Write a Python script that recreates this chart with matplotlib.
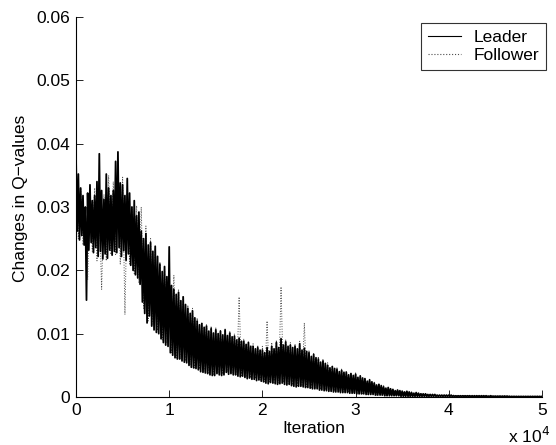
import matplotlib

matplotlib.use("Agg")
import matplotlib.pyplot as plt
import numpy as np

plt.rcParams["font.family"] = ["Liberation Sans", "DejaVu Sans"]

# ---------------------------------------------------------------- data
# values, in units of 1e-4
SCALE = 1e-4
LEADER_STEP = 125     # iterations between leader samples (8 per 1e3)
FOLLOWER_STEP = 250   # iterations between follower samples (4 per 1e3)

leader = [
    380, 262, 352, 248, 330, 255, 318, 240,   300, 153, 322, 232, 335, 244, 310, 228,
    318, 236, 340, 222, 384, 230, 326, 218,   312, 226, 352, 219, 330, 232, 318, 224,
    326, 230, 372, 228, 387, 236, 338, 222,   335, 231, 318, 216, 345, 226, 322, 208,
    300, 200, 310, 193, 286, 188, 292, 178,   262, 150, 250, 132, 258, 117, 240, 128,
    244, 112, 230, 106, 238, 102, 222, 100,   210, 92, 198, 86, 206, 82, 190, 80,
    237, 70, 176, 66, 170, 62, 162, 60,       165, 60, 152, 57, 158, 55, 146, 54,
    140, 50, 132, 47, 136, 46, 125, 45,       120, 43, 114, 40, 116, 39, 110, 38,
    112, 37, 104, 35, 108, 34, 101, 34,       106, 37, 100, 35, 104, 34, 98, 35,
    106, 39, 97, 36, 101, 37, 95, 35,         96, 35, 90, 33, 93, 32, 88, 33,
    88, 31, 83, 29, 86, 30, 80, 28,           80, 28, 76, 26, 78, 27, 74, 25,
    74, 24, 70, 22, 78, 21, 72, 23,           80, 22, 76, 21, 86, 20, 78, 21,
    92, 22, 82, 20, 87, 19, 80, 20,           82, 18, 78, 17, 80, 16, 76, 17,
    84, 17, 74, 16, 77, 15, 72, 15,           70, 14, 64, 13, 67, 13, 62, 13,
    60, 11, 55, 11, 57, 10, 53, 10,           50, 9, 46, 9, 48, 8, 45, 8,
    44, 8, 40, 7, 42, 7, 39, 7,               39, 7, 35, 6, 37, 6, 34, 6,
    36, 5, 31, 5, 33, 5, 30, 5,               29, 4, 25, 4, 27, 4, 24, 4,
    22, 3, 19, 3, 20, 3, 18, 3,               16, 2, 14, 2, 15, 2, 13, 2,
    12, 2, 10, 2, 11, 2, 10, 1,               9, 1, 8, 1, 9, 1, 8, 1,
    7, 1, 6, 1, 7, 1, 6, 1,                   5, 1, 5, 1, 5, 1, 4, 1,
    4, 1, 4, 1, 4, 1, 3, 1,                   3, 1, 3, 1, 3, 1, 3, 1,
    3, 1, 3, 1, 2, 1, 2, 1,                   2, 1, 2, 1, 2, 1, 2, 1,
    2, 1, 2, 0.5, 2, 0.5, 2, 0.5,             2, 0.5, 2, 0.5, 2, 0.5, 2, 0.5,
    2, 0.5, 1.5, 0.5, 2, 0.5, 1.5, 0.5,       1.5, 0.5, 1.5, 0.5, 1.5, 0.5, 1.5, 0.5,
    1.5, 0.4, 1.5, 0.4, 1, 0.4, 1, 0.4,       1, 0.3, 1, 0.3, 1, 0.3, 1, 0.3,
    1, 0.3, 1, 0.3, 1, 0.3, 1, 0.3,           1, 0.3, 1, 0.3, 1, 0.3, 1, 0.3,
    1,
]

follower = [
    360, 250, 330, 240,  300, 185, 320, 230,  330, 215, 300, 170,  320, 215, 350, 225,
    340, 225, 360, 210,  347, 130, 320, 210,  300, 195, 302, 180,  300, 140, 270, 120,
    250, 115, 235, 105,  212, 90, 205, 85,   180, 70, 192, 62,   170, 60, 160, 57,
    145, 50, 140, 46,    125, 44, 118, 40,   115, 38, 112, 36,   110, 37, 106, 36,
    108, 39, 104, 37,    100, 35, 158, 34,   92, 31, 88, 30,     84, 29, 82, 27,
    80, 24, 120, 24,     86, 23, 90, 22,     174, 23, 90, 21,    86, 19, 84, 18,
    88, 17, 117, 16,     74, 15, 70, 14,     64, 12, 60, 11,     54, 10, 50, 9,
    46, 8, 44, 8,        41, 7, 38, 6,       38, 6, 34, 5,       30, 4, 28, 4,
    24, 3, 21, 3,        18, 2, 15, 2,       13, 2, 11, 2,       10, 1, 9, 1,
    8, 1, 7, 1,          6, 1, 5, 1,         4, 1, 4, 1,         3, 1, 3, 1,
    3, 1, 3, 1,          2, 0.5, 2, 0.5,     2, 0.5, 2, 0.5,     2, 0.5, 2, 0.5,
    2, 0.5, 2, 0.5,      1.5, 0.5, 1.5, 0.5, 1.5, 0.4, 1.5, 0.4, 1, 0.3, 1, 0.3,
    1, 0.3, 1, 0.3,      1, 0.3, 1, 0.3,     1,
]

x_ticks = [0, 10000, 20000, 30000, 40000, 50000]
x_tick_labels = ["0", "1", "2", "3", "4", "5"]
y_ticks = [0, 0.01, 0.02, 0.03, 0.04, 0.05, 0.06]
y_tick_labels = ["0", "0.01", "0.02", "0.03", "0.04", "0.05", "0.06"]

FS = 12.5

# ---------------------------------------------------------------- plot
it_l = np.arange(len(leader)) * LEADER_STEP
it_f = np.arange(len(follower)) * FOLLOWER_STEP

fig = plt.figure(figsize=(5.56, 4.45), dpi=100)
ax = fig.add_axes([76 / 556, 48 / 445, 466 / 556, 380 / 445])

ax.plot(it_l, np.array(leader) * SCALE, color="black", lw=1.3, label="Leader", zorder=3)
ax.plot(it_f, np.array(follower) * SCALE, color="0.3", lw=0.7, ls=":", label="Follower",
        zorder=2)

ax.set_xlim(0, 50000)
ax.set_ylim(0, 0.06)
ax.set_xticks(x_ticks, x_tick_labels)
ax.set_yticks(y_ticks, y_tick_labels)
ax.tick_params(direction="in", length=5, width=0.6, labelsize=FS, pad=4)
for side in ("top", "right"):
    ax.spines[side].set_visible(False)
for side in ("left", "bottom"):
    ax.spines[side].set_linewidth(0.8)
    ax.spines[side].set_zorder(4)

ax.set_xlabel("Iteration", fontsize=FS)
ax.xaxis.set_label_coords((313.5 - 76) / 466, (397 - 421) / 380)
ax.set_ylabel("Changes in Q\u2212values", fontsize=FS)
ax.yaxis.set_label_coords((28 - 76) / 466, (397 - 198) / 380)
fig.text(508 / 556, 1 - 443 / 445, "x 10$^4$", fontsize=FS, ha="left", va="baseline")

leg = ax.legend(loc="upper right", bbox_to_anchor=(546 / 556, 1 - 22.5 / 445),
                bbox_transform=fig.transFigure, borderaxespad=0, fancybox=False,
                frameon=True, fontsize=FS, handlelength=1.9, handletextpad=0.7,
                labelspacing=0.2, borderpad=0.4)
leg.get_frame().set_edgecolor("black")
leg.get_frame().set_linewidth(0.8)
for line in leg.get_lines():
    line.set_linewidth(0.8)

fig.savefig("out.png", dpi=100)
